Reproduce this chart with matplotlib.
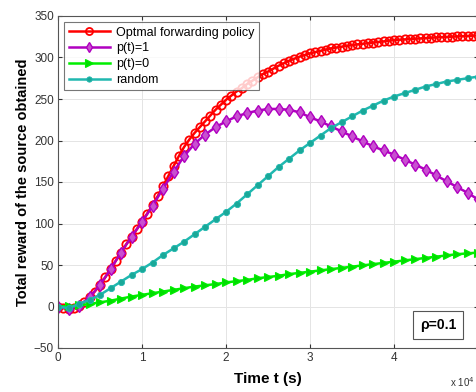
import numpy as np
import matplotlib
matplotlib.use('Agg')
from matplotlib import pyplot as plt

plt.rcParams['font.family'] = ['Liberation Sans', 'DejaVu Sans']

# time axis (units of 10^4 s)
t_fine = np.arange(81) / 16.0
t_coarse = np.arange(41) / 8.0

optimal = [0, -2, -3, -2, 1, 5, 11, 18, 26, 35, 45, 55, 65, 75, 84, 93,
           102, 112, 122, 133, 145, 157, 169, 181, 192, 201, 209, 216, 223, 230, 237, 243,
           249, 254, 259, 263, 268, 272, 276, 280, 283, 286.5, 290, 293, 296, 298.5, 301, 303,
           305, 306.5, 308, 309.5, 311, 312, 313, 314, 315, 315.8, 316.5, 317.2, 318, 318.7, 319.4, 320.2,
           321, 321.4, 321.8, 322.2, 322.6, 323, 323.4, 323.8, 324.2, 324.5, 324.8, 325.1, 325.4, 325.7, 326, 326.3,
           326.6]

p_one = [0, -3, 1, 11, 26, 45, 65, 84, 102, 121, 142, 162, 181, 196, 207, 216,
         223, 229, 233, 236, 238, 238, 237, 234, 228, 223, 217, 211, 205, 199, 193, 188,
         183, 177, 171, 165, 158, 151, 144, 137, 129]

p_zero = [0, 0.5, 1.5, 3, 5, 7, 9.5, 12, 14, 16, 18, 20, 22, 24, 25.5, 27,
          29, 30.5, 32, 34, 35.5, 37, 39, 40.5, 42, 43.5, 45, 46.5, 48, 49.5, 51, 52.5,
          54, 55.5, 57, 58.5, 60, 61.5, 63, 64, 65]

random_p = [0, -2, 3, 8, 14, 22, 30, 38, 45, 53, 62, 70, 78, 87, 96, 105,
            114, 124, 135, 146, 157, 168, 178, 188, 197, 206, 215, 222, 229, 236, 242, 248,
            253, 257, 261, 265, 268, 271, 273, 275, 277]

labels = ['Optmal forwarding policy', 'p(t)=1', 'p(t)=0', 'random']
xticks = [0, 1, 2, 3, 4, 5]
xticklabels = ['0', '1', '2', '3', '4', '']

fig = plt.figure(figsize=(4.76, 3.92), dpi=100)
ax = fig.add_axes([58 / 476, 44 / 392, 420 / 476, 332 / 392])

ax.plot(t_fine, optimal, '-o', color='#ff0000', lw=1.8, ms=6, mfc='none', mew=1.3, label=labels[0])
ax.plot(t_coarse, p_one, '-d', color='#b000c0', lw=1.8, ms=6, mfc='#c850d0', mew=1.0, label=labels[1])
ax.plot(t_coarse, p_zero, '->', color='#00ee00', lw=1.8, ms=6, mfc='#00dd00', mew=0.8, label=labels[2])
ax.plot(t_coarse, random_p, '-o', color='#20b8b0', lw=1.8, ms=4.5, mfc='#1aa898', mew=0.6, label=labels[3])

ax.set_xlim(0, 5)
ax.set_ylim(-50, 350)
ax.set_xticks(xticks)
ax.set_xticklabels(xticklabels)
ax.set_yticks(np.arange(-50, 351, 50))
ax.grid(True, color='#e4e4e4', lw=0.7)
ax.set_axisbelow(True)
ax.tick_params(direction='in', top=True, right=True, labelsize=8.5, length=3,
               colors='#333333', pad=3)
for s in ax.spines.values():
    s.set_color('#555555')
    s.set_linewidth(0.8)

ax.set_xlabel('Time t (s)', fontsize=11, fontweight='bold', labelpad=6)
ax.set_ylabel('Total reward of the source obtained', fontsize=10.5, fontweight='bold', labelpad=3)

leg = ax.legend(loc='upper left', fontsize=9, frameon=True, fancybox=False,
                borderpad=0.35, labelspacing=0.3, handlelength=3.3, handletextpad=0.5,
                borderaxespad=0.5, edgecolor='#555555', markerscale=0.85)
leg.get_frame().set_linewidth(0.8)

ax.text(0.905, 0.07, 'ρ=0.1', transform=ax.transAxes, fontsize=10, fontweight='bold',
        ha='center', va='center',
        bbox=dict(boxstyle='square,pad=0.5', fc='white', ec='#555555', lw=0.8))

fig.text(450 / 476, 10 / 392, 'x 10$^4$', fontsize=7, color='#333333', ha='left', va='center')

fig.savefig('out.png', dpi=100)
